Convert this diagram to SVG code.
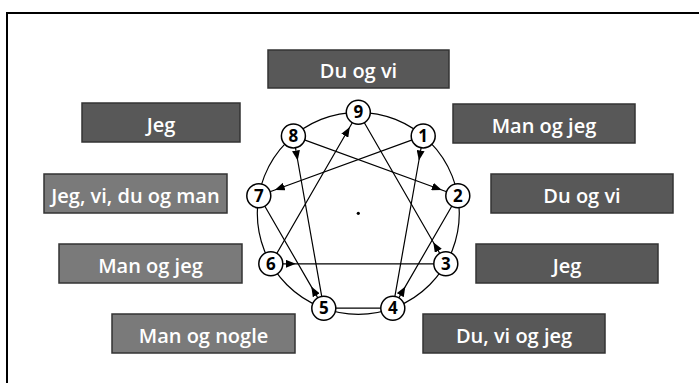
<svg xmlns="http://www.w3.org/2000/svg" width="699" height="383" viewBox="0 0 699 383">
<style>
.box{stroke:#333;stroke-width:1.5}
.dark{fill:#585858}
.light{fill:#7a7a7a}
.lbl{font-family:"Open Sans","Noto Sans",sans-serif;font-weight:600;font-size:20px;fill:#fff;text-anchor:middle}
.node circle{fill:#fff;stroke:#000;stroke-width:1.5}
.node text{font-family:"Open Sans","Noto Sans",sans-serif;font-weight:bold;font-size:17px;fill:#000;text-anchor:middle}
.con{fill:none;stroke:#000;stroke-width:1.2}
</style>
<defs>
<marker id="arr" markerUnits="userSpaceOnUse" markerWidth="10" markerHeight="8" refX="10" refY="4" orient="auto">
<path d="M0,0 L10,4 L0,8 z" fill="#000"/>
</marker>
</defs>
<rect x="0" y="0" width="699" height="383" fill="#fff"/>
<rect x="7" y="13" width="700" height="380" fill="none" stroke="#000" stroke-width="2"/>

<g id="box-top"><rect class="box dark" x="268" y="50" width="181" height="38"/><text class="lbl" x="358.5" y="77.5">Du og vi</text></g>
<g id="box-tl"><rect class="box dark" x="82" y="103" width="158" height="39"/><text class="lbl" x="161" y="131.5">Jeg</text></g>
<g id="box-l1"><rect class="box light" x="44" y="174" width="183" height="39"/><text class="lbl" x="135.5" y="202.5">Jeg, vi, du og man</text></g>
<g id="box-l2"><rect class="box light" x="59" y="244" width="183" height="39"/><text class="lbl" x="150.5" y="272.5">Man og jeg</text></g>
<g id="box-bl"><rect class="box light" x="112" y="314" width="183" height="39"/><text class="lbl" x="203.5" y="342.5">Man og nogle</text></g>
<g id="box-tr"><rect class="box dark" x="453" y="104" width="182" height="39"/><text class="lbl" x="544" y="132.5">Man og jeg</text></g>
<g id="box-r1"><rect class="box dark" x="491" y="174" width="182" height="39"/><text class="lbl" x="582" y="202.5">Du og vi</text></g>
<g id="box-r2"><rect class="box dark" x="476" y="244" width="182" height="39"/><text class="lbl" x="567" y="272.5">Jeg</text></g>
<g id="box-br"><rect class="box dark" x="423" y="314" width="182" height="39"/><text class="lbl" x="514" y="342.5">Du, vi og jeg</text></g>

<g id="ring">
<circle cx="358.3" cy="213.3" r="101" fill="none" stroke="#000" stroke-width="1.2"/>
<circle cx="358.3" cy="213.3" r="1.6" fill="#000"/>
</g>

<g id="connectors">
<path class="con" marker-mid="url(#arr)" d="M270.8,263.8 L349.8,127.0 L358.3,112.3"/>
<path class="con" marker-mid="url(#arr)" d="M293.4,135.9 L297.7,160.5 L323.8,308.2"/>
<path class="con" marker-mid="url(#arr)" d="M423.2,135.9 L418.9,160.5 L392.8,308.2"/>
<path class="con" marker-mid="url(#arr)" d="M423.2,135.9 L274.8,190.0 L258.8,195.8"/>
<path class="con" marker-mid="url(#arr)" d="M293.4,135.9 L441.8,190.0 L457.8,195.8"/>
<path class="con" marker-mid="url(#arr)" d="M445.8,263.8 L433.3,242.2 L358.3,112.3"/>
<path class="con" marker-mid="url(#arr)" d="M270.8,263.8 L295.8,263.8 L445.8,263.8"/>
<path class="con" marker-mid="url(#arr)" d="M323.8,308.2 L311.3,286.6 L258.8,195.8"/>
<path class="con" marker-mid="url(#arr)" d="M392.8,308.2 L405.3,286.6 L457.8,195.8"/>
<path class="con" d="M323.8,308.2 L392.8,308.2"/>
</g>

<g id="n9" class="node"><circle cx="358.3" cy="112.3" r="12"/><text x="358.3" y="118.3">9</text></g>
<g id="n1" class="node"><circle cx="423.2" cy="135.9" r="12"/><text x="423.2" y="141.9">1</text></g>
<g id="n2" class="node"><circle cx="457.8" cy="195.8" r="12"/><text x="457.8" y="201.8">2</text></g>
<g id="n3" class="node"><circle cx="445.8" cy="263.8" r="12"/><text x="445.8" y="269.8">3</text></g>
<g id="n4" class="node"><circle cx="392.8" cy="308.2" r="12"/><text x="392.8" y="314.2">4</text></g>
<g id="n5" class="node"><circle cx="323.8" cy="308.2" r="12"/><text x="323.8" y="314.2">5</text></g>
<g id="n6" class="node"><circle cx="270.8" cy="263.8" r="12"/><text x="270.8" y="269.8">6</text></g>
<g id="n7" class="node"><circle cx="258.8" cy="195.8" r="12"/><text x="258.8" y="201.8">7</text></g>
<g id="n8" class="node"><circle cx="293.4" cy="135.9" r="12"/><text x="293.4" y="141.9">8</text></g>
</svg>
